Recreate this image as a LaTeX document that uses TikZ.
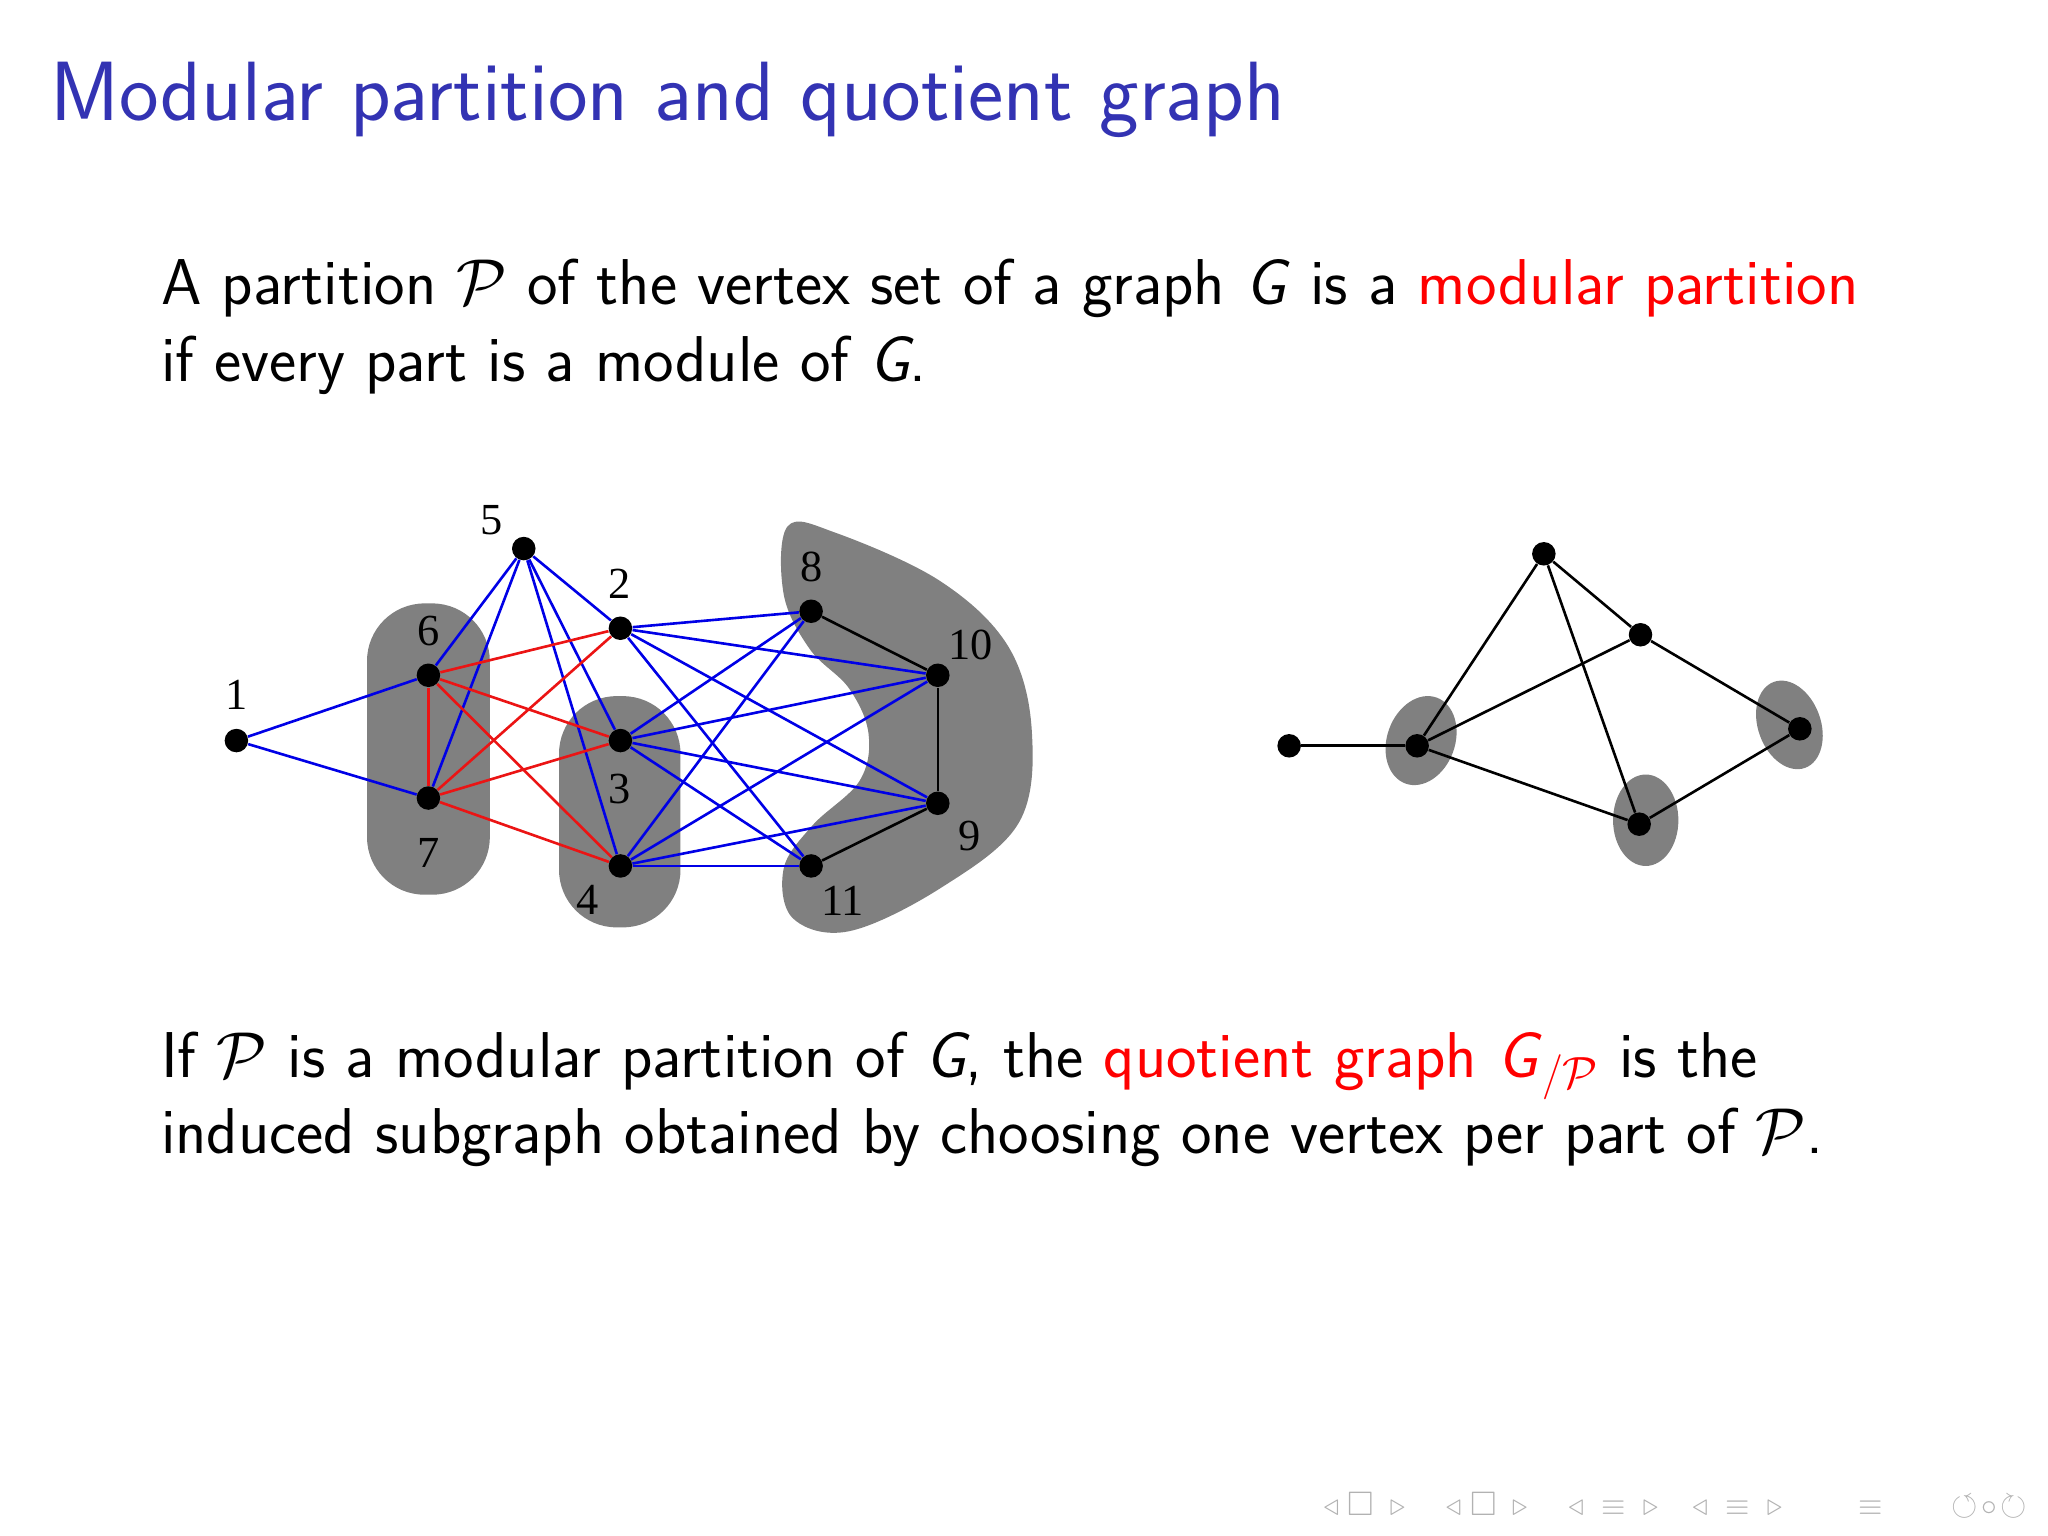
\documentclass[tikz,border=0pt]{standalone}
\usepackage{amsmath,amssymb}
\usepackage{fontspec}
\newfontfamily\labfont{Liberation Serif}
\definecolor{titleblue}{RGB}{51,51,179}
\definecolor{blobgray}{RGB}{128,128,128}
\definecolor{eblue}{RGB}{0,0,230}
\definecolor{ered}{RGB}{235,20,20}
\newcommand{\sG}{\textit{G}}
\begin{document}
\begin{tikzpicture}[x=0.5pt,y=-0.5pt,
  vtx/.style={circle,fill=black,inner sep=0pt,minimum size=9pt},
  lab/.style={font=\labfont\fontsize{17}{17}\selectfont},
  be/.style={eblue,line width=1pt},
  re/.style={ered,line width=1pt},
  ke/.style={black,line width=1pt},
  txt/.style={anchor=base west,inner sep=0pt,font=\sffamily\fontsize{24.8}{29}\selectfont}]
\useasboundingbox (0,0) rectangle (1568,1176);
\node[anchor=base west,inner sep=0pt,text=titleblue,font=\sffamily\fontsize{32.2}{38}\selectfont] (title) at (38,92) {Modular partition and quotient graph};
\node[txt] (l1) at (123,233) {A partition $\mathcal{P}$ of the vertex set of a graph \sG{} is a \textcolor{red}{modular partition}};
\node[txt] (l2) at (123,292) {if every part is a module of \sG.};
\node[txt] (l3) at (123,825) {If $\mathcal{P}$ is a modular partition of \sG, the \textcolor{red}{quotient graph \sG$_{/\mathcal{P}}$} is the};
\node[txt] (l4) at (123,883) {induced subgraph obtained by choosing one vertex per part of $\mathcal{P}$.};
% blobs
\fill[blobgray,rounded corners=22pt] (281,462) rectangle (375,685);
\fill[blobgray,rounded corners=22pt] (428,533) rectangle (521,710);
\fill[blobgray] plot[smooth cycle,tension=0.6] coordinates {(603,403) (640,408) (720,445) (772,495) (790,560) (780,630) (720,680) (650,713) (607,703) (600,665) (622,632) (658,598) (665,562) (650,527) (620,497) (600,455)};
\fill[blobgray,rotate around={-20:(1088,567)}] (1088,567) ellipse [x radius=26,y radius=35];
\fill[blobgray] (1260,628) ellipse [x radius=25,y radius=35];
\fill[blobgray,rotate around={20:(1370,555)}] (1370,555) ellipse [x radius=24,y radius=35];
% vertices
\node[vtx] (n1) at (181,567) {};
\node[vtx] (n5) at (401,420) {};
\node[vtx] (n2) at (475,481) {};
\node[vtx] (n6) at (328,517) {};
\node[vtx] (n7) at (328,611) {};
\node[vtx] (n3) at (475,567) {};
\node[vtx] (n4) at (475,663) {};
\node[vtx] (n8) at (621,468) {};
\node[vtx] (n10) at (718,517) {};
\node[vtx] (n9) at (718,615) {};
\node[vtx] (n11) at (621,663) {};
\node[lab] (t1) at (181,532) {1};
\node[lab] (t5) at (376,398) {5};
\node[lab] (t2) at (474,447) {2};
\node[lab] (t6) at (328,483) {6};
\node[lab] (t7) at (328,653) {7};
\node[lab] (t3) at (474,604) {3};
\node[lab] (t4) at (450,689) {4};
\node[lab] (t8) at (621,434) {8};
\node[lab] (t10) at (743,494) {10};
\node[lab] (t9) at (742,640) {9};
\node[lab] (t11) at (645,690) {11};
% edges
\foreach \a/\b in {n1/n6,n1/n7,n5/n6,n5/n7,n5/n2,n5/n3,n5/n4,
  n2/n8,n2/n10,n2/n9,n2/n11,n3/n8,n3/n10,n3/n9,n3/n11,n4/n8,n4/n10,n4/n9,n4/n11}
  \draw[be] (\a) -- (\b);
\foreach \a/\b in {n6/n7,n6/n2,n6/n3,n6/n4,n7/n2,n7/n3,n7/n4}
  \draw[re] (\a) -- (\b);
\foreach \a/\b in {n8/n10,n10/n9,n9/n11}
  \draw[ke] (\a) -- (\b);
% quotient
\node[vtx] (qa) at (987,571) {};
\node[vtx] (qb) at (1085,571) {};
\node[vtx] (qc) at (1182,424) {};
\node[vtx] (qd) at (1256,486) {};
\node[vtx] (qe) at (1255,631) {};
\node[vtx] (qf) at (1378,558) {};
\foreach \a/\b in {qa/qb,qb/qc,qb/qd,qb/qe,qc/qd,qc/qe,qd/qf,qe/qf}
  \draw[ke] (\a) -- (\b);
% navigation symbols
\node[anchor=base east,inner sep=0pt,text=gray!60,font=\fontsize{13}{13}\selectfont] (nav) at (1552,1160) {$\triangleleft\;\square\;\triangleright\quad\triangleleft\;\square\;\triangleright\quad\triangleleft\;\equiv\;\triangleright\quad\triangleleft\;\equiv\;\triangleright\qquad\equiv\qquad\circlearrowleft\!\circ\!\circlearrowright$};
\end{tikzpicture}
\end{document}
